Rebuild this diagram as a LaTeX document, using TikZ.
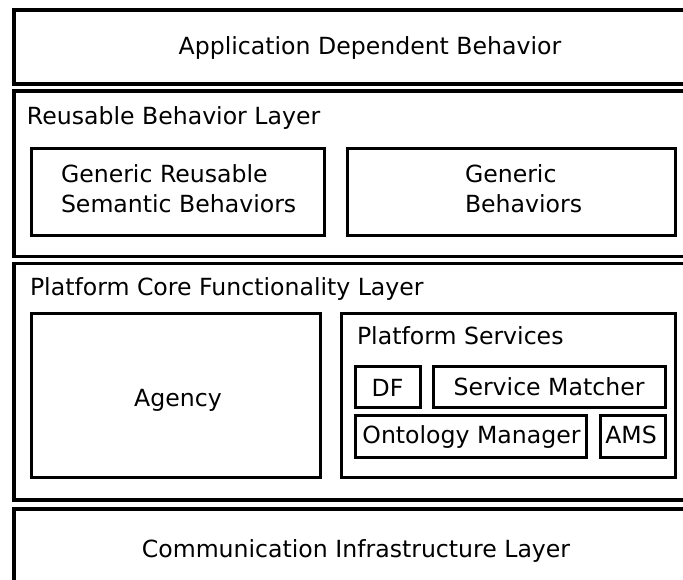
\documentclass[tikz,border=0pt]{standalone}
\usepackage{fontspec}
\setmainfont{DejaVu Sans}
\usetikzlibrary{positioning}

\begin{document}
\begin{tikzpicture}[x=1pt,y=-1pt,
	layer/.style={draw,line width=3.5pt,outer sep=0pt,inner sep=0pt,anchor=north west},
	box/.style={draw,line width=3pt,outer sep=0pt,inner sep=0pt,anchor=north west},
	lbl/.style={inner sep=0pt,outer sep=0pt,font=\fontsize{23.6}{30}\selectfont}]
	\useasboundingbox (0,0) rectangle (683,579);
	\clip (0,0) rectangle (683,579);
	% layers
	\node[layer,minimum width=690pt,minimum height=74pt] at (14,10) (app) {};
	\node[layer,minimum width=690pt,minimum height=165.5pt] at (14,91) (reuse) {};
	\node[layer,minimum width=690pt,minimum height=236.5pt] at (14,263.5) (core) {};
	\node[layer,minimum width=690pt,minimum height=100pt] at (14,509) (comm) {};
	
	% boxes
	\node[box,minimum width=293pt,minimum height=87pt] at (31.5,148) (semantic) {};
	\node[box,minimum width=327.5pt,minimum height=87pt] at (347.5,148) (generic) {};
	\node[box,minimum width=288.5pt,minimum height=164pt] at (31.5,313) (agency) {};
	\node[box,minimum width=333.5pt,minimum height=164pt] at (341.5,313) (services) {};
	\node[box,minimum width=65pt,minimum height=41pt] at (355,366) (df) {};
	\node[box,minimum width=232pt,minimum height=41pt] at (433,366) (matcher) {};
	\node[box,minimum width=231pt,minimum height=41.5pt] at (355,415.5) (ontology) {};
	\node[box,minimum width=65pt,minimum height=41.5pt] at (600,415.5) (ams) {};
	
	% labels
	\node[lbl,anchor=base] at (370,54) (apptxt) {Application Dependent Behavior};
	\node[lbl,anchor=base west] at (27,124) (reusetxt) {Reusable Behavior Layer};
	\node[lbl,anchor=north west,align=left] at (61,165) (semantictxt) {Generic Reusable\\Semantic Behaviors};
	\node[lbl,anchor=north west,align=left] at (465,165) (generictxt) {Generic\\Behaviors};
	\node[lbl,anchor=base west] at (30,295) (coretxt) {Platform Core Functionality Layer};
	\node[lbl,anchor=base] at (178,406) (agencytxt) {Agency};
	\node[lbl,anchor=base west] at (357,344) (servicestxt) {Platform Services};
	\node[lbl,anchor=base] at (387.5,396) (dftxt) {DF};
	\node[lbl,anchor=base] at (549,395) (matchertxt) {Service Matcher};
	\node[lbl,anchor=base] at (471.5,443) (ontologytxt) {Ontology Manager};
	\node[lbl,anchor=base] at (631,443) (amstxt) {AMS};
	\node[lbl,anchor=base] at (356,557) (commtxt) {Communication Infrastructure Layer};
\end{tikzpicture}
\end{document}
